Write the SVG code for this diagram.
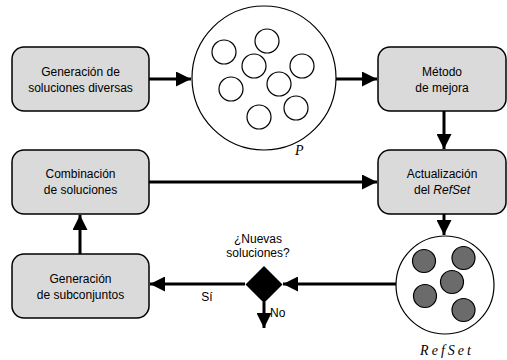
<svg xmlns="http://www.w3.org/2000/svg" width="507" height="360" viewBox="0 0 507 360">
<defs>
<style>
.box{fill:#dadada;stroke:#000;stroke-width:1.5}
.lbl{font-family:"Liberation Sans",Arial,sans-serif;font-size:12px;fill:#000;text-anchor:middle}
.edge{stroke:#000;stroke-width:3;fill:none}
.wc{fill:#fff;stroke:#000;stroke-width:1.2}
.gc{fill:#6b6b6b;stroke:#000;stroke-width:1.2}
.math{font-family:"Liberation Serif","Times New Roman",serif;font-style:italic;font-size:14px;fill:#000}
</style>
<marker id="ah" viewBox="0 0 10 10" refX="10" refY="5" markerWidth="5" markerHeight="5" markerUnits="strokeWidth" orient="auto">
<path d="M0,0 L10,5 L0,10 z" fill="#000"/>
</marker>
</defs>
<g id="connectors">
<line class="edge" x1="149" y1="79" x2="191" y2="79" marker-end="url(#ah)"/>
<line class="edge" x1="336" y1="79" x2="377" y2="79" marker-end="url(#ah)"/>
<line class="edge" x1="444" y1="111" x2="444" y2="149" marker-end="url(#ah)"/>
<line class="edge" x1="149" y1="182" x2="377" y2="182" marker-end="url(#ah)"/>
<line class="edge" x1="444" y1="214" x2="444" y2="235" marker-end="url(#ah)"/>
<line class="edge" x1="80" y1="254" x2="80" y2="215" marker-end="url(#ah)"/>
<line class="edge" x1="396" y1="284" x2="283" y2="284" marker-end="url(#ah)"/>
<line class="edge" x1="245" y1="284" x2="150" y2="284" marker-end="url(#ah)"/>
<line class="edge" x1="264" y1="302" x2="264" y2="328" marker-end="url(#ah)"/>
<text class="lbl" x="207" y="301">Sí</text>
<text class="lbl" x="270" y="317" style="text-anchor:start">No</text>
</g>
<g id="gen-diversas">
<rect class="box" x="12" y="47" width="137" height="64" rx="12"/>
<text class="lbl" x="80.5" y="76">Generación de</text>
<text class="lbl" x="80.5" y="92">soluciones diversas</text>
</g>
<g id="poblacion">
<circle cx="264" cy="78" r="72" fill="#fff" stroke="#000" stroke-width="1.2"/>
<circle class="wc" cx="224" cy="52" r="12"/>
<circle class="wc" cx="267" cy="41" r="12"/>
<circle class="wc" cx="254" cy="66" r="12"/>
<circle class="wc" cx="302" cy="66" r="12"/>
<circle class="wc" cx="231" cy="89" r="12"/>
<circle class="wc" cx="279" cy="84" r="12"/>
<circle class="wc" cx="296" cy="108" r="12"/>
<circle class="wc" cx="259" cy="117" r="12"/>
<text class="math" x="295" y="155">P</text>
</g>
<g id="metodo-mejora">
<rect class="box" x="378" y="47" width="128" height="64" rx="12"/>
<text class="lbl" x="442" y="76">Método</text>
<text class="lbl" x="442" y="92">de mejora</text>
</g>
<g id="combinacion">
<rect class="box" x="12" y="150" width="137" height="64" rx="12"/>
<text class="lbl" x="80.5" y="178">Combinación</text>
<text class="lbl" x="80.5" y="194">de soluciones</text>
</g>
<g id="actualizacion">
<rect class="box" x="378" y="150" width="128" height="64" rx="12"/>
<text class="lbl" x="442" y="178">Actualización</text>
<text class="lbl" x="442" y="194">del <tspan font-style="italic">RefSet</tspan></text>
</g>
<g id="gen-subconjuntos">
<rect class="box" x="12" y="254" width="137" height="64" rx="12"/>
<text class="lbl" x="80.5" y="283">Generación</text>
<text class="lbl" x="80.5" y="299">de subconjuntos</text>
</g>
<g id="refset">
<circle cx="445" cy="285" r="49" fill="#fff" stroke="#000" stroke-width="1.2"/>
<circle class="gc" cx="424" cy="261" r="11.5"/>
<circle class="gc" cx="463.5" cy="258" r="11.5"/>
<circle class="gc" cx="452" cy="282" r="11.5"/>
<circle class="gc" cx="425" cy="296" r="11.5"/>
<circle class="gc" cx="463.5" cy="310" r="11.5"/>
<text class="math" x="447" y="355" text-anchor="middle" letter-spacing="3">RefSet</text>
</g>
<g id="decision">
<polygon points="264,266 282.5,284.5 264,303 245.5,284.5" fill="#000"/>
<text class="lbl" x="258" y="243">¿Nuevas</text>
<text class="lbl" x="258" y="257">soluciones?</text>
</g>
</svg>
